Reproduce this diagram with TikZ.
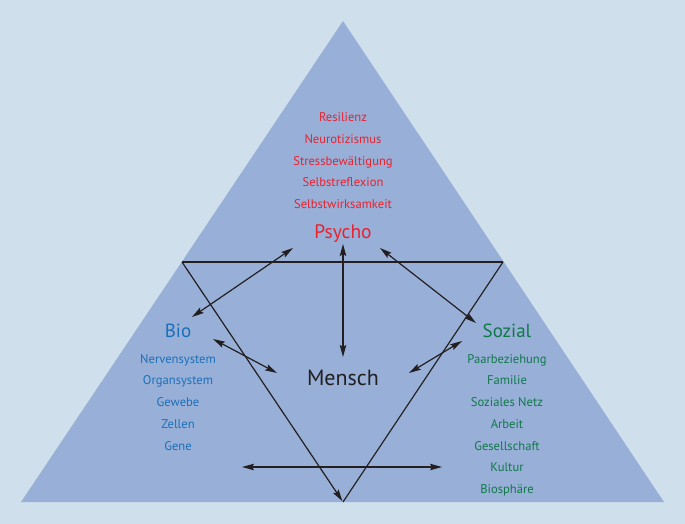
\documentclass[tikz,border=0pt]{standalone}
\usepackage{fontspec}
\setmainfont{PT Sans}
\usetikzlibrary{arrows.meta, positioning}
\definecolor{bgBlue}{HTML}{CFE0EC}
\definecolor{pyrBlue}{HTML}{98B0D8}
\definecolor{psyRed}{HTML}{E8212E}
\definecolor{bioBlue}{HTML}{1B6FB8}
\definecolor{sozGreen}{HTML}{11784A}
\definecolor{lineDark}{HTML}{231F20}
\tikzset{
  arrowBoth/.style={{Stealth[length=12pt, width=6.5pt, inset=2pt]}-{Stealth[length=12pt, width=6.5pt, inset=2pt]},
                    lineDark, line width=1.2pt},
  arrowOne/.style={-{Stealth[length=12pt, width=6.5pt, inset=2pt]}, lineDark, line width=1.2pt},
  headPsy/.style={text=psyRed, font=\fontsize{19.5}{19.5}\selectfont, anchor=base, inner sep=0pt},
  headBio/.style={text=bioBlue, font=\fontsize{19}{19}\selectfont, anchor=base, inner sep=0pt},
  headSoz/.style={text=sozGreen, font=\fontsize{19}{19}\selectfont, anchor=base, inner sep=0pt},
  itemPsy/.style={text=psyRed, font=\fontsize{12.6}{12.6}\selectfont, anchor=base, inner sep=0pt},
  itemBio/.style={text=bioBlue, font=\fontsize{12.6}{12.6}\selectfont, anchor=base, inner sep=0pt},
  itemSoz/.style={text=sozGreen, font=\fontsize{12.6}{12.6}\selectfont, anchor=base, inner sep=0pt},
}
\begin{document}
\begin{tikzpicture}[x=1pt, y=-1pt]
    \fill[bgBlue] (0,0) rectangle (685,524);
    \fill[pyrBlue] (343,21) -- (664,502) -- (21,502) -- cycle;

    \coordinate (tl) at (182,262);
    \coordinate (tr) at (503,262);
    \coordinate (bt) at (343,502);
    \draw[lineDark, line width=2pt] (tl) -- (tr);
    \draw[lineDark, line width=1.2pt] (tr) -- (bt);
    \draw[arrowOne, shorten >=1pt] (tl) -- (bt);

    \node[headPsy] (psycho) at (343,238) {Psycho};
    \node[headBio] (bio) at (178,337) {Bio};
    \node[headSoz] (sozial) at (507,337) {Sozial};
    \node[text=lineDark, font=\fontsize{22}{22}\selectfont, anchor=base, inner sep=0pt]
      (mensch) at (343,385.5) {Mensch};

    \foreach \t [count=\i] in {Resilienz, Neurotizismus, Stressbewältigung,
      Selbstreflexion, Selbstwirksamkeit}
      \node[itemPsy] (psy\i) at (343,{121.5+21.75*(\i-1)}) {\t};
    \foreach \t [count=\i] in {Nervensystem, Organsystem, Gewebe, Zellen, Gene}
      \node[itemBio] (bio\i) at (178,{363+21.75*(\i-1)}) {\t};
    \foreach \t [count=\i] in {Paarbeziehung, Familie, Soziales Netz, Arbeit,
      Gesellschaft, Kultur, Biosphäre}
      \node[itemSoz] (soz\i) at (507,{363+21.75*(\i-1)}) {\t};

    \coordinate (psyB) at (343,244); \coordinate (menT) at (343,357);
    \coordinate (psyL) at (293,248); \coordinate (bioR) at (192,317);
    \coordinate (psyR) at (380,248); \coordinate (sozL) at (476,323);
    \coordinate (bioM) at (213,339); \coordinate (menL) at (277,373);
    \coordinate (sozM) at (462,341); \coordinate (menR) at (409,373);
    \coordinate (botL) at (242,467); \coordinate (botR) at (442,467);
    \draw[arrowBoth] (psyB) -- (menT);
    \draw[arrowBoth] (psyL) -- (bioR);
    \draw[arrowBoth] (psyR) -- (sozL);
    \draw[arrowBoth] (bioM) -- (menL);
    \draw[arrowBoth] (sozM) -- (menR);
    \draw[arrowBoth] (botL) -- (botR);
  \end{tikzpicture}
\end{document}
